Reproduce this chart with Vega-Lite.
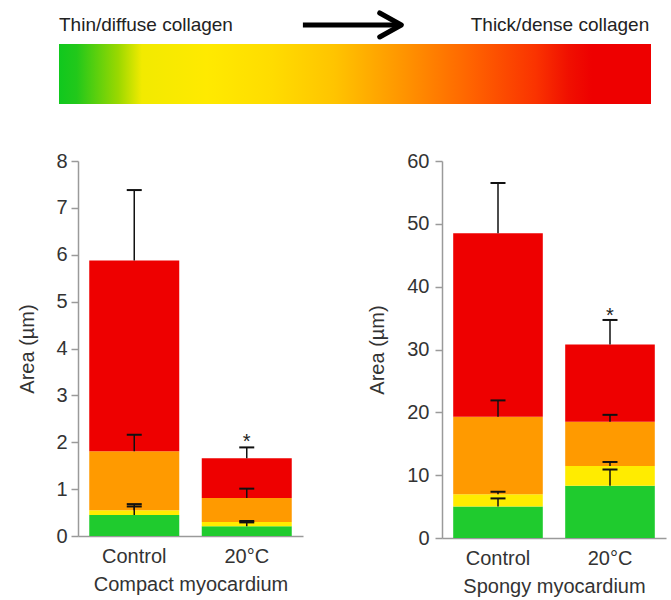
{
  "$schema": "https://vega.github.io/schema/vega-lite/v6.json",
  "padding": {"left": 17, "top": 10, "right": 5, "bottom": 3},
  "spacing": 47,
  "config": {
    "view": {"stroke": null},
    "font": "Liberation Sans",
    "axis": {
      "grid": false,
      "domainColor": "#9a9a9a",
      "domainWidth": 1.5,
      "tickColor": "#9a9a9a",
      "tickWidth": 1.5,
      "tickSize": 7,
      "labelColor": "#333333",
      "labelFontSize": 20,
      "titleColor": "#333333",
      "titleFontSize": 20,
      "titleFontWeight": "normal"
    },
    "axisX": {"ticks": false, "labelPadding": 10, "titlePadding": 8, "labelAngle": 0}
  },
  "datasets": {
    "compact": [
      {"group": "Control", "class": "Thin/diffuse", "bottom": 0, "top": 0.45, "err": 0.63},
      {"group": "Control", "class": "Intermediate thin", "bottom": 0.45, "top": 0.55, "err": 0.68},
      {"group": "Control", "class": "Intermediate thick", "bottom": 0.55, "top": 1.81, "err": 2.16},
      {"group": "Control", "class": "Thick/dense", "bottom": 1.81, "top": 5.88, "err": 7.38},
      {"group": "20°C", "class": "Thin/diffuse", "bottom": 0, "top": 0.21, "err": 0.29},
      {"group": "20°C", "class": "Intermediate thin", "bottom": 0.21, "top": 0.3, "err": 0.32},
      {"group": "20°C", "class": "Intermediate thick", "bottom": 0.3, "top": 0.81, "err": 1.01},
      {"group": "20°C", "class": "Thick/dense", "bottom": 0.81, "top": 1.66, "err": 1.89}
    ],
    "spongy": [
      {"group": "Control", "class": "Thin/diffuse", "bottom": 0, "top": 5.0, "err": 6.3},
      {"group": "Control", "class": "Intermediate thin", "bottom": 5.0, "top": 6.95, "err": 7.36},
      {"group": "Control", "class": "Intermediate thick", "bottom": 6.95, "top": 19.3, "err": 21.9},
      {"group": "Control", "class": "Thick/dense", "bottom": 19.3, "top": 48.5, "err": 56.5},
      {"group": "20°C", "class": "Thin/diffuse", "bottom": 0, "top": 8.3, "err": 10.9},
      {"group": "20°C", "class": "Intermediate thin", "bottom": 8.3, "top": 11.45, "err": 12.1},
      {"group": "20°C", "class": "Intermediate thick", "bottom": 11.45, "top": 18.5, "err": 19.6},
      {"group": "20°C", "class": "Thick/dense", "bottom": 18.5, "top": 30.8, "err": 34.7}
    ],
    "compactSig": [{"group": "20°C", "y": 2.0, "label": "*"}],
    "spongySig": [{"group": "20°C", "y": 35.4, "label": "*"}]
  },
  "vconcat": [
    {
      "width": 573,
      "height": 92,
      "layer": [
        {
          "data": {"values": [{"start": 0, "end": 1, "bottom": 0, "top": 0.652}]},
          "mark": {
            "type": "rect",
            "fill": {
              "gradient": "linear", "x1": 0, "x2": 1, "y1": 0, "y2": 0,
              "stops": [
                {"offset": 0, "color": "#10c81e"},
                {"offset": 0.03, "color": "#22c81a"},
                {"offset": 0.1, "color": "#9ad800"},
                {"offset": 0.14, "color": "#f2ea00"},
                {"offset": 0.25, "color": "#ffea00"},
                {"offset": 0.36, "color": "#ffdc00"},
                {"offset": 0.465, "color": "#ffc400"},
                {"offset": 0.58, "color": "#ff9500"},
                {"offset": 0.69, "color": "#ff6600"},
                {"offset": 0.805, "color": "#fa3300"},
                {"offset": 0.86, "color": "#f01000"},
                {"offset": 0.9, "color": "#ee0000"},
                {"offset": 1, "color": "#ee0000"}
              ]
            }
          },
          "encoding": {
            "x": {"field": "start", "type": "quantitative", "scale": {"domain": [0.0321, 1], "nice": false, "zero": false}, "axis": null},
            "x2": {"field": "end"},
            "y": {"field": "bottom", "type": "quantitative", "scale": {"domain": [0, 1], "nice": false}, "axis": null},
            "y2": {"field": "top"}
          }
        },
        {
          "data": {"values": [{"pos": 0, "level": 0.859, "label": "Thin/diffuse collagen"}]},
          "mark": {"type": "text", "align": "left", "baseline": "middle", "fontSize": 19, "color": "#222222"},
          "encoding": {
            "x": {"field": "pos", "type": "quantitative"},
            "y": {"field": "level", "type": "quantitative"},
            "text": {"field": "label"}
          }
        },
        {
          "data": {"values": [{"pos": 0.997, "level": 0.859, "label": "Thick/dense collagen"}]},
          "mark": {"type": "text", "align": "right", "baseline": "middle", "fontSize": 19, "color": "#222222"},
          "encoding": {
            "x": {"field": "pos", "type": "quantitative"},
            "y": {"field": "level", "type": "quantitative"},
            "text": {"field": "label"}
          }
        },
        {
          "data": {"values": [{"from": 0.412, "to": 0.572, "level": 0.859}]},
          "mark": {"type": "rule", "strokeWidth": 5, "color": "#000000"},
          "encoding": {
            "x": {"field": "from", "type": "quantitative"},
            "x2": {"field": "to"},
            "y": {"field": "level", "type": "quantitative"}
          }
        },
        {
          "data": {"values": [{"pos": 0.56, "level": 0.859}]},
          "mark": {"type": "point", "shape": "M-0.9,-1L0.9,0L-0.9,1", "size": 576, "filled": false, "stroke": "#000000", "strokeWidth": 5, "strokeJoin": "round", "strokeCap": "round", "opacity": 1},
          "encoding": {
            "x": {"field": "pos", "type": "quantitative"},
            "y": {"field": "level", "type": "quantitative"}
          }
        }
      ]
    },
    {
      "hconcat": [
        {
          "width": 225,
          "height": 375,
          "layer": [
            {
              "data": {"name": "compact"},
              "mark": {"type": "bar"},
              "encoding": {
                "x": {"field": "group", "type": "nominal", "sort": ["Control", "20°C"], "scale": {"paddingInner": 0.2, "paddingOuter": 0.1}, "axis": {"title": "Compact myocardium"}},
                "y": {"field": "bottom", "type": "quantitative", "scale": {"domain": [0, 8], "nice": false}, "axis": {"title": "Area (µm)", "values": [0, 1, 2, 3, 4, 5, 6, 7, 8], "labelPadding": 4, "titlePadding": 18}},
                "y2": {"field": "top"},
                "color": {"field": "class", "type": "nominal", "scale": {"domain": ["Thin/diffuse", "Intermediate thin", "Intermediate thick", "Thick/dense"], "range": ["#1fcb2e", "#ffec00", "#ff9a00", "#ee0000"]}, "legend": null}
              }
            },
            {
              "data": {"name": "compact"},
              "mark": {"type": "rule", "strokeWidth": 1.5, "color": "#111111"},
              "encoding": {
                "x": {"field": "group", "type": "nominal", "sort": ["Control", "20°C"]},
                "y": {"field": "top", "type": "quantitative"},
                "y2": {"field": "err"}
              }
            },
            {
              "data": {"name": "compact"},
              "mark": {"type": "tick", "size": 15, "thickness": 2, "color": "#111111", "opacity": 1},
              "encoding": {
                "x": {"field": "group", "type": "nominal", "sort": ["Control", "20°C"]},
                "y": {"field": "err", "type": "quantitative"}
              }
            },
            {
              "data": {"name": "compactSig"},
              "mark": {"type": "text", "fontSize": 20, "baseline": "middle", "color": "#222222"},
              "encoding": {
                "x": {"field": "group", "type": "nominal", "sort": ["Control", "20°C"]},
                "y": {"field": "y", "type": "quantitative"},
                "text": {"field": "label"}
              }
            }
          ]
        },
        {
          "width": 224,
          "height": 377,
          "layer": [
            {
              "data": {"name": "spongy"},
              "mark": {"type": "bar"},
              "encoding": {
                "x": {"field": "group", "type": "nominal", "sort": ["Control", "20°C"], "scale": {"paddingInner": 0.2, "paddingOuter": 0.1}, "axis": {"title": "Spongy myocardium"}},
                "y": {"field": "bottom", "type": "quantitative", "scale": {"domain": [0, 60], "nice": false}, "axis": {"title": "Area (µm)", "values": [0, 10, 20, 30, 40, 50, 60], "labelPadding": 6, "titlePadding": 19}},
                "y2": {"field": "top"},
                "color": {"field": "class", "type": "nominal", "scale": {"domain": ["Thin/diffuse", "Intermediate thin", "Intermediate thick", "Thick/dense"], "range": ["#1fcb2e", "#ffec00", "#ff9a00", "#ee0000"]}, "legend": null}
              }
            },
            {
              "data": {"name": "spongy"},
              "mark": {"type": "rule", "strokeWidth": 1.5, "color": "#111111"},
              "encoding": {
                "x": {"field": "group", "type": "nominal", "sort": ["Control", "20°C"]},
                "y": {"field": "top", "type": "quantitative"},
                "y2": {"field": "err"}
              }
            },
            {
              "data": {"name": "spongy"},
              "mark": {"type": "tick", "size": 15, "thickness": 2, "color": "#111111", "opacity": 1},
              "encoding": {
                "x": {"field": "group", "type": "nominal", "sort": ["Control", "20°C"]},
                "y": {"field": "err", "type": "quantitative"}
              }
            },
            {
              "data": {"name": "spongySig"},
              "mark": {"type": "text", "fontSize": 20, "baseline": "middle", "color": "#222222"},
              "encoding": {
                "x": {"field": "group", "type": "nominal", "sort": ["Control", "20°C"]},
                "y": {"field": "y", "type": "quantitative"},
                "text": {"field": "label"}
              }
            }
          ]
        }
      ],
      "spacing": 64
    }
  ]
}
